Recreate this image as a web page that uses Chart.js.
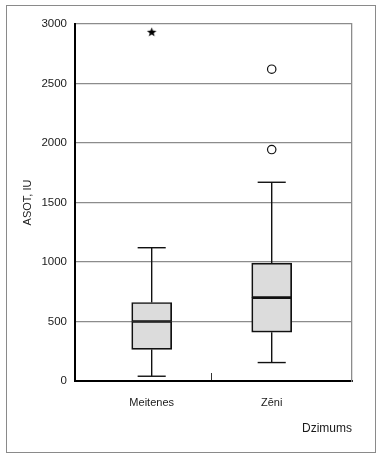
<!DOCTYPE html>
<html>
<head>
<meta charset="utf-8">
<script src="https://cdn.jsdelivr.net/npm/chart.js@4.4.1/dist/chart.umd.min.js"></script>
<style>
  html, body { margin: 0; padding: 0; background: #fff; }
  #wrap { position: relative; width: 380px; height: 455px; }
  #frame { position: absolute; left: 6px; top: 5px; width: 368px; height: 446px; border: 1px solid #8a8a8a; pointer-events: none; }
  canvas { position: absolute; left: 0; top: 0; }
</style>
</head>
<body>
<div id="wrap">
  <canvas id="chart" width="380" height="455"></canvas>
  <div id="frame"></div>
</div>
<script>
// Dati (nolasīti no attēla)
const groups = ['Meitenes', 'Zēni'];
const groupPos = [1, 2];
const whiskerLow = [40, 155];
const q1 = [265, 410];
const median = [500, 700];
const q3 = [660, 990];
const whiskerHigh = [1120, 1670];
const outliers = [[], [1945, 2620]];     // apļi
const extremes = [[2930], []];           // zvaigznītes
const yTicks = [0, 500, 1000, 1500, 2000, 2500, 3000];
const midTick = 1.5;

const FONT = "'Liberation Sans', Arial, sans-serif";
const TEXT = '#1a1a1a';
const GRID = '#8c8c8c';
const LINE = '#111';
const capHalf = 0.117;

// zvaigznes punkta stils
function makeStar() {
  const c = document.createElement('canvas');
  c.width = 11; c.height = 11;
  const g = c.getContext('2d');
  g.fillStyle = '#000';
  g.beginPath();
  for (let i = 0; i < 10; i++) {
    const r = i % 2 === 0 ? 5 : 2.1;
    const a = -Math.PI / 2 + i * Math.PI / 5;
    const px = 5.5 + r * Math.cos(a), py = 5.5 + r * Math.sin(a);
    if (i === 0) g.moveTo(px, py); else g.lineTo(px, py);
  }
  g.closePath();
  g.fill();
  return c;
}

function segment(a, b) {
  return {
    type: 'line',
    data: [a, b],
    borderColor: LINE,
    borderWidth: 1.4,
    pointRadius: 0,
    fill: false,
    tension: 0
  };
}

const boxStyle = {
  type: 'bar',
  backgroundColor: '#dcdcdc',
  borderColor: LINE,
  borderWidth: 1.7,
  borderSkipped: false,
  barThickness: 40,
  grouped: false
};

const datasets = [
  Object.assign({ data: groupPos.map((x, i) => ({ x, y: [q1[i], median[i]] })) }, boxStyle),
  Object.assign({ data: groupPos.map((x, i) => ({ x, y: [median[i], q3[i]] })) }, boxStyle)
];

groupPos.forEach((x, i) => {
  datasets.push(segment({ x, y: q3[i] }, { x, y: whiskerHigh[i] }));
  datasets.push(segment({ x, y: whiskerLow[i] }, { x, y: q1[i] }));
  datasets.push(segment({ x: x - capHalf, y: whiskerHigh[i] }, { x: x + capHalf, y: whiskerHigh[i] }));
  datasets.push(segment({ x: x - capHalf, y: whiskerLow[i] }, { x: x + capHalf, y: whiskerLow[i] }));
});

datasets.push({
  type: 'scatter',
  data: groupPos.flatMap((x, i) => outliers[i].map(y => ({ x, y }))),
  pointStyle: 'circle',
  pointRadius: 4.2,
  borderWidth: 1.2,
  borderColor: LINE,
  backgroundColor: '#fff'
});
datasets.push({
  type: 'scatter',
  data: groupPos.flatMap((x, i) => extremes[i].map(y => ({ x, y }))),
  pointStyle: makeStar(),
  pointRadius: 5
});

new Chart(document.getElementById('chart'), {
  type: 'bar',
  data: { datasets },
  options: {
    responsive: false,
    animation: false,
    devicePixelRatio: 1,
    layout: { padding: { left: 17, top: 24, right: 28, bottom: 19 } },
    plugins: { legend: { display: false }, tooltip: { enabled: false } },
    scales: {
      x: {
        type: 'linear',
        offset: false,
        min: 0.361,
        max: 2.669,
        afterBuildTicks: s => { s.ticks = [groupPos[0], midTick, groupPos[1]].map(v => ({ value: v })); },
        ticks: {
          callback: v => { const i = groupPos.indexOf(v); return i >= 0 ? groups[i] : ''; },
          color: TEXT,
          font: { family: FONT, size: 11 },
          padding: 23,
          maxRotation: 0,
          autoSkip: false
        },
        grid: {
          offset: false,
          drawOnChartArea: false,
          drawTicks: true,
          tickLength: -8,
          lineWidth: 1,
          color: c => (c.tick && c.tick.value === midTick) ? '#333' : 'rgba(0,0,0,0)'
        },
        border: { color: '#000', width: 2 },
        title: { display: true, text: 'Dzimums', align: 'end', color: TEXT, font: { family: FONT, size: 12 }, padding: 0 },
        afterFit: s => { s.height = 55; }
      },
      y: {
        min: 0,
        max: 3000,
        afterBuildTicks: s => { s.ticks = yTicks.map(v => ({ value: v })); },
        ticks: { color: TEXT, font: { family: FONT, size: 11.5 }, padding: 8, callback: v => String(v) },
        grid: {
          drawTicks: false,
          lineWidth: 1.3,
          color: c => (c.tick && c.tick.value === 0) ? 'rgba(0,0,0,0)' : GRID
        },
        border: { color: '#000', width: 2 },
        title: { display: true, text: 'ASOT, IU', color: TEXT, font: { family: FONT, size: 11 }, padding: { top: 4, bottom: 4 } },
        afterFit: s => { s.width = 58; }
      },
      y2: {
        position: 'right',
        min: 0,
        max: 3000,
        grid: { display: false, drawTicks: false },
        ticks: { display: false },
        border: { color: GRID, width: 1.3 },
        afterFit: s => { s.width = 0; }
      }
    }
  }
});
</script>
</body>
</html>
